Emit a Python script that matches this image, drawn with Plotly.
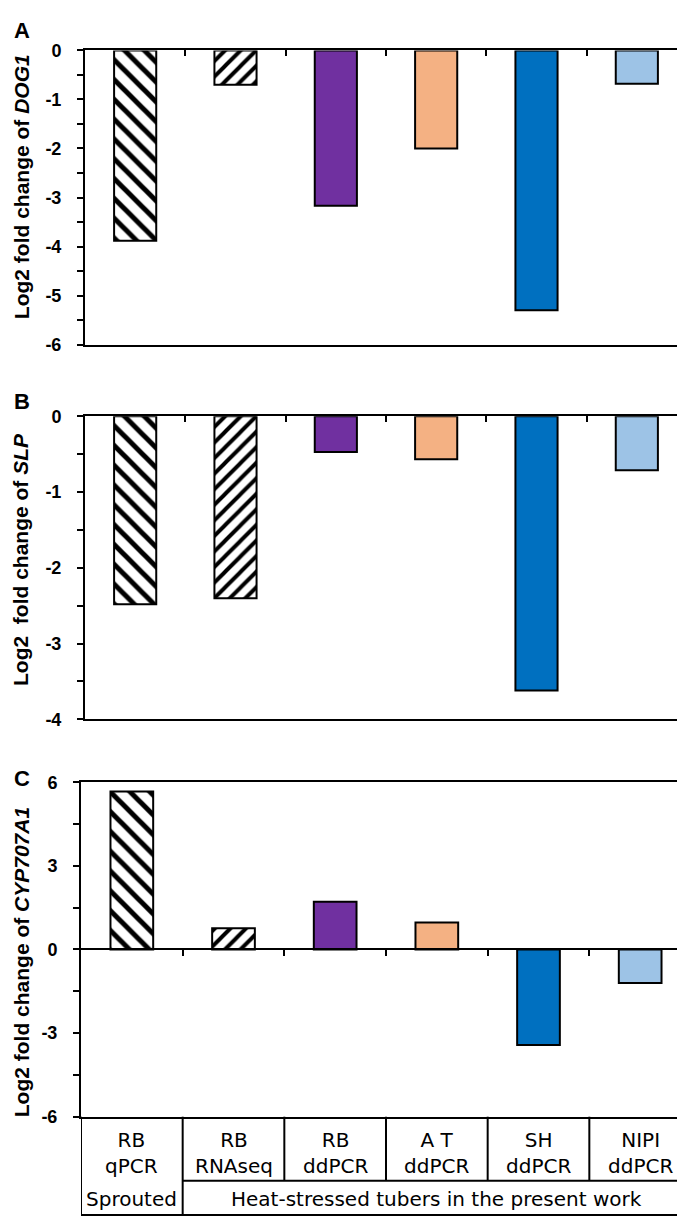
import plotly.graph_objects as go

# ---------------- data ----------------
categories = ["RB<br>qPCR", "RB<br>RNAseq", "RB<br>ddPCR", "A T<br>ddPCR", "SH<br>ddPCR", "NIPI<br>ddPCR"]
groups = ["Sprouted", "Heat-stressed tubers in the present work"]
group_members = [[0], [1, 2, 3, 4, 5]]

dog1 = [-3.88, -0.70, -3.17, -2.00, -5.30, -0.68]
slp = [-2.48, -2.40, -0.47, -0.565, -3.62, -0.71]
cyp707a1 = [5.67, 0.76, 1.71, 0.97, -3.43, -1.20]

bar_colors = ["white", "white", "#7030A0", "#F4B183", "#0070C0", "#9DC3E6"]
bar_patterns = ["\\", "/", "", "", "", ""]
pattern_sizes = [14, 11, 8, 8, 8, 8]

titles = ["Log2 fold change of <i>DOG1</i>",
          "Log2  fold change of <i>SLP</i>",
          "Log2 fold change of <i>CYP707A1</i>"]
panel_letters = ["A", "B", "C"]

a_ticks = [0, -1, -2, -3, -4, -5, -6]
b_ticks = [0, -1, -2, -3, -4]
c_ticks = [6, 3, 0, -3, -6]

# ---------------- layout helpers ----------------
W, H = 685, 1221
def py(px):
    return 1 - px / H
def pxx(px):
    return px / W

panels = [
    dict(vals=dog1, ticks=a_ticks, rng=[-6, 0], minor=0.5, top=33, bot=332, left=77, right=679,
         title_y=172, letter_y=13),
    dict(vals=slp, ticks=b_ticks, rng=[-4, 0], minor=0.5, top=405, bot=713, left=77, right=679,
         title_y=551, letter_y=390),
    dict(vals=cyp707a1, ticks=c_ticks, rng=[-6, 6], minor=1.5, top=777, bot=1117, left=73, right=683,
         title_y=960, letter_y=773),
]

n = len(categories)
xs = list(range(n))
bounds = [i + 0.5 for i in range(n - 1)]
xrange_ = [-0.5, n - 0.5]

TICK_FONT = dict(family="Liberation Sans, Arial", size=18, color="black", weight="bold")
LBL_FONT = dict(family="DejaVu Sans", size=20, color="black")

fig = go.Figure()
layout = dict(
    width=W, height=H,
    margin=dict(l=0, r=0, t=0, b=0),
    paper_bgcolor="white", plot_bgcolor="white",
    showlegend=False,
    barmode="overlay",
)
annotations = []
shapes = []

for k, p in enumerate(panels):
    sx = "" if k == 0 else str(k + 1)
    for i in range(n):
        mk = dict(color=bar_colors[i], line=dict(color="black", width=2))
        if bar_patterns[i]:
            mk["pattern"] = dict(shape=bar_patterns[i], fgcolor="black", bgcolor="white",
                                 fgopacity=1, size=pattern_sizes[i], solidity=0.36)
        fig.add_trace(go.Bar(
            x=[xs[i]], y=[p["vals"][i]], xaxis="x" + sx, yaxis="y" + sx,
            width=0.42, marker=mk, opacity=1, hoverinfo="skip",
        ))
    ydom = [py(p["bot"]), py(p["top"])]
    xdom = [pxx(p["left"]), pxx(p["right"])]
    xa = dict(domain=xdom, range=xrange_, anchor="y" + sx, showgrid=False, zeroline=False,
              showline=True, linecolor="black", linewidth=2, mirror=True,
              showticklabels=False, fixedrange=True)
    if k < 2:
        xa.update(side="top", ticks="inside", tickmode="array", tickvals=bounds,
                  ticklen=6, tickwidth=2, tickcolor="black")
    else:
        xa.update(ticks="")
    ya = dict(domain=ydom, range=p["rng"], anchor="x" + sx, showgrid=False, zeroline=False,
              showline=True, linecolor="black", linewidth=2, mirror=True,
              ticks="outside", ticklen=6, tickwidth=2, tickcolor="black",
              tickmode="array", tickvals=p["ticks"], ticktext=[str(t) for t in p["ticks"]],
              tickfont=TICK_FONT, ticklabelstandoff=12,
              minor=dict(tickmode="linear", tick0=0, dtick=p["minor"], ticks="outside",
                         ticklen=6, tickwidth=2, tickcolor="black"),
              fixedrange=True)
    layout["xaxis" + sx] = xa
    layout["yaxis" + sx] = ya

    annotations.append(dict(text=titles[k], x=pxx(13), y=py(p["title_y"]), xref="paper", yref="paper",
                            textangle=-90, showarrow=False, xanchor="center", yanchor="middle",
                            font=dict(family="Liberation Sans, Arial", size=21, color="black", weight="bold")))
    annotations.append(dict(text=panel_letters[k], x=pxx(14), y=py(p["letter_y"]), xref="paper", yref="paper",
                            showarrow=False, xanchor="center", yanchor="middle",
                            font=dict(family="Liberation Sans, Arial", size=22, color="black", weight="bold")))

# zero axis in panel C with boundary ticks
c = panels[2]
c_dom = layout["yaxis3"]["domain"]
zero_pos = c_dom[0] + (0 - c["rng"][0]) / (c["rng"][1] - c["rng"][0]) * (c_dom[1] - c_dom[0])
layout["xaxis4"] = dict(overlaying="x3", anchor="free", position=zero_pos, side="top",
                        range=xrange_, showgrid=False, zeroline=False, showline=True,
                        linecolor="black", linewidth=2, ticks="inside", tickmode="array",
                        tickvals=bounds, ticklen=6, tickwidth=2, tickcolor="black",
                        showticklabels=False, fixedrange=True)
fig.add_trace(go.Scatter(x=[None], y=[None], xaxis="x4", yaxis="y3", mode="markers",
                         hoverinfo="skip", showlegend=False))

# ---------------- category table under panel C ----------------
t_top, t_mid, t_bot = py(1117), py(1182), py(1217)
line = dict(color="black", width=2)
for xv in (xrange_[0], xrange_[1]):
    shapes.append(dict(type="line", xref="x3", yref="paper", x0=xv, x1=xv, y0=t_top, y1=t_bot, line=line))
for members in group_members:
    for b in bounds:
        if members[0] < b < members[-1]:
            shapes.append(dict(type="line", xref="x3", yref="paper", x0=b, x1=b, y0=t_top, y1=t_mid, line=line))
for members in group_members[1:]:
    left = members[0] - 0.5
    shapes.append(dict(type="line", xref="x3", yref="paper", x0=left, x1=left, y0=t_top, y1=t_bot, line=line))
    shapes.append(dict(type="line", xref="x3", yref="paper", x0=left, x1=members[-1] + 0.5,
                       y0=t_mid, y1=t_mid, line=line))
shapes.append(dict(type="line", xref="x3", yref="paper", x0=xrange_[0], x1=xrange_[1],
                   y0=t_bot, y1=t_bot, line=line))

for i, cat in enumerate(categories):
    annotations.append(dict(text=cat, x=i, xref="x3", y=py(1154), yref="paper", showarrow=False,
                            xanchor="center", yanchor="middle", font=LBL_FONT))
for g, members in enumerate(group_members):
    annotations.append(dict(text=groups[g], x=sum(members) / len(members), xref="x3", y=py(1201),
                            yref="paper", showarrow=False, xanchor="center", yanchor="middle",
                            font=LBL_FONT))

layout["annotations"] = annotations
layout["shapes"] = shapes
fig.update_layout(**layout)
fig.write_html("out.html")
